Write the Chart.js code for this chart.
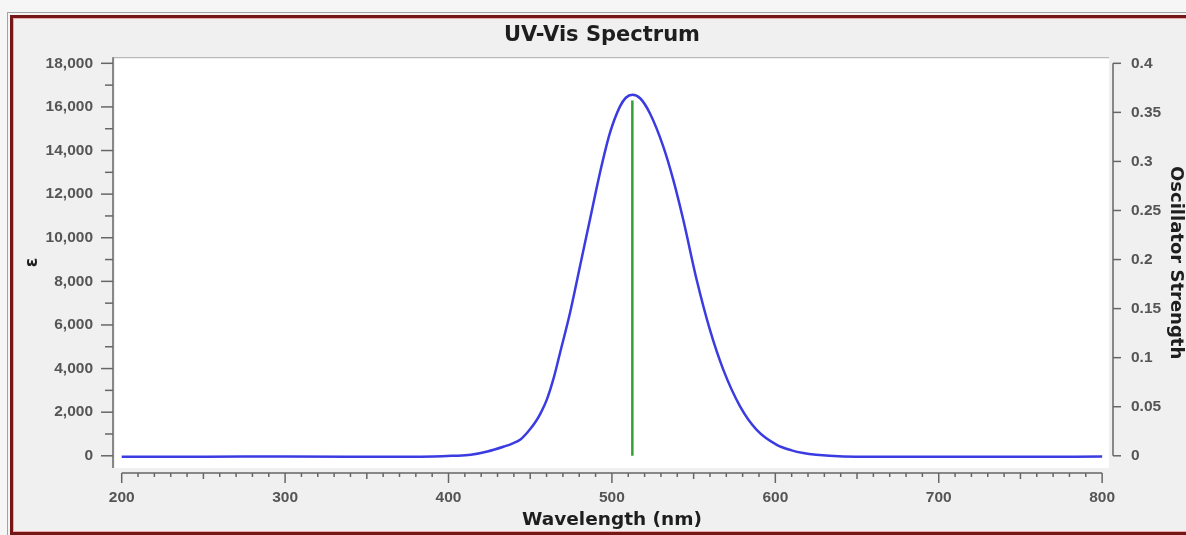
<!DOCTYPE html>
<html>
<head>
<meta charset="utf-8">
<title>UV-Vis Spectrum</title>
<script src="https://cdn.jsdelivr.net/npm/chart.js@4.4.1/dist/chart.umd.min.js"></script>
<style>
  html, body { margin: 0; padding: 0; width: 1186px; height: 535px; overflow: hidden; background: #f6f6f6; }
  #frame { position: absolute; left: 7px; top: 12px; width: 1300px; height: 600px;
           border: 1px solid #a3a3a3; padding: 2px; background: #f4f4f4; }
  #panel { box-sizing: border-box; width: 1296px; height: 520px;
           border: 3px solid #761717; box-shadow: inset 0 0 0 1px #e7a9a9; background: #f0f0f0; }
  #chart { position: absolute; left: 0; top: 0; }
</style>
</head>
<body>
<div id="frame"><div id="panel"></div></div>
<canvas id="chart" width="1186" height="535"></canvas>
<script>
// Simulated absorption band (molar absorptivity vs wavelength)
const wavelengths = [200, 250, 300, 350, 383, 403, 413.6, 423.8, 434, 439, 444.2, 448.5, 453.4, 456.4, 460.1, 464.6, 468.2,
                     474.3, 480.4, 486.5, 492.6, 498.7, 504.8, 508.5, 512.5, 517.4, 523.3, 531.5, 537.6, 543.7,
                     551.9, 560.0, 568.2, 578.5, 588.6, 600.9, 610, 617.1, 625, 641.6, 660, 700, 750, 800];
const epsilon = [-40, -40, -35, -40, -45, 0, 46, 197, 426, 560, 760, 1090, 1571, 1956, 2565, 3633, 4704,
                 6537, 8672, 10811, 12950, 14783, 16001, 16420, 16560, 16386, 15699, 14169, 12643, 10811,
                 8062, 5772, 3940, 2258, 1191, 504, 250, 124, 45, -32, -45, -45, -45, -35];

// Computed excitations (stick spectrum)
const stickWavelengths = [512.5];
const stickStrengths = [0.362];

// Axis tick values
const wavelengthTicks = [200, 300, 400, 500, 600, 700, 800];
const epsilonTicks = [0, 2000, 4000, 6000, 8000, 10000, 12000, 14000, 16000, 18000];
const strengthTicks = [0, 0.05, 0.1, 0.15, 0.2, 0.25, 0.3, 0.35, 0.4];

const TITLE_FONT = "'DejaVu Sans', Verdana, sans-serif";
const TICK_FONT = "'Liberation Sans', Arial, sans-serif";
const tickFont = { family: TICK_FONT, size: 15.5, weight: 'bold' };
const tickColor = '#555555';
const axisColor = '#666666';

const datasets = [{
  label: 'ε',
  data: wavelengths.map((w, i) => ({ x: w, y: epsilon[i] })),
  showLine: true,
  borderColor: '#3b3be2',
  borderWidth: 2.5,
  pointRadius: 0,
  cubicInterpolationMode: 'monotone',
  xAxisID: 'x',
  yAxisID: 'y'
}];
stickWavelengths.forEach((w, i) => {
  datasets.push({
    label: 'f',
    data: [{ x: w, y: 0 }, { x: w, y: stickStrengths[i] }],
    showLine: true,
    borderColor: '#34a034',
    borderWidth: 2.5,
    pointRadius: 0,
    xAxisID: 'x',
    yAxisID: 'y2'
  });
});

// White plot panel plus the hand-styled axis lines and tick marks
const axesPlugin = {
  id: 'spectrumAxes',
  beforeDraw(chart) {
    const { ctx, chartArea: a } = chart;
    ctx.save();
    ctx.fillStyle = '#ffffff';
    ctx.fillRect(a.left, a.top, a.right - a.left, a.bottom - a.top);
    ctx.strokeStyle = '#a8a8a8';
    ctx.lineWidth = 1;
    ctx.beginPath();
    ctx.moveTo(a.left - 2, a.top + 0.5);
    ctx.lineTo(a.right, a.top + 0.5);
    ctx.stroke();
    ctx.restore();
  },
  afterDraw(chart) {
    const { ctx, chartArea: a, scales } = chart;
    const xs = scales.x, ys = scales.y, y2 = scales.y2;
    ctx.save();
    ctx.strokeStyle = axisColor;
    ctx.lineWidth = 1.5;
    const seg = (x1, y1, x2, y2p) => { ctx.beginPath(); ctx.moveTo(x1, y1); ctx.lineTo(x2, y2p); ctx.stroke(); };

    // left (ε) axis
    const lx = a.left - 2;
    seg(lx, a.top, lx, a.bottom);
    epsilonTicks.forEach((v, i) => {
      const py = ys.getPixelForValue(v);
      seg(lx - 12, py, lx, py);
      if (i < epsilonTicks.length - 1) {
        const my = ys.getPixelForValue((v + epsilonTicks[i + 1]) / 2);
        seg(lx - 8, my, lx, my);
      }
    });

    // right (oscillator strength) axis
    const rx = a.right + 4;
    const rTop = y2.getPixelForValue(strengthTicks[strengthTicks.length - 1]);
    const rBot = y2.getPixelForValue(strengthTicks[0]);
    seg(rx, rTop, rx, rBot);
    strengthTicks.forEach(v => {
      const py = y2.getPixelForValue(v);
      seg(rx, py, rx + 8, py);
    });

    // bottom (wavelength) axis
    const by = a.bottom + 5;
    const x0 = wavelengthTicks[0], x1 = wavelengthTicks[wavelengthTicks.length - 1];
    seg(xs.getPixelForValue(x0), by, xs.getPixelForValue(x1), by);
    for (let w = x0; w <= x1; w += 10) {
      const px = xs.getPixelForValue(w);
      const len = (w % 100 === 0) ? 10 : (w % 50 === 0 ? 6 : 4);
      seg(px, by, px, by + len);
    }
    ctx.restore();
  }
};

new Chart(document.getElementById('chart'), {
  type: 'scatter',
  data: { datasets },
  plugins: [axesPlugin],
  options: {
    responsive: false,
    animation: false,
    devicePixelRatio: 1,
    layout: { padding: { left: 18, top: 0, right: 0, bottom: 0 } },
    plugins: {
      legend: { display: false },
      tooltip: { enabled: false },
      title: {
        display: true,
        text: 'UV-Vis Spectrum',
        color: '#1e1e1e',
        font: { family: TITLE_FONT, size: 21, weight: 'bold' },
        padding: { top: 23, bottom: 9 }
      }
    },
    scales: {
      x: {
        type: 'linear',
        position: 'bottom',
        min: 195.9,
        max: 804.2,
        grid: { display: false, drawTicks: false },
        border: { display: false },
        afterBuildTicks: s => { s.ticks = wavelengthTicks.map(v => ({ value: v })); },
        afterFit: s => { s.height = 67; },
        ticks: {
          autoSkip: false, maxRotation: 0, padding: 20,
          color: tickColor, font: tickFont,
          callback: v => String(v)
        },
        title: {
          display: true, text: 'Wavelength (nm)', color: '#1e1e1e',
          font: { family: TITLE_FONT, size: 18.5, weight: 'bold' },
          padding: { top: 0, bottom: 4 }
        }
      },
      y: {
        type: 'linear',
        position: 'left',
        min: -560,
        max: 18280,
        grid: { display: false, drawTicks: false },
        border: { display: false },
        afterBuildTicks: s => { s.ticks = epsilonTicks.map(v => ({ value: v })); },
        afterFit: s => { s.width = 97; },
        ticks: {
          autoSkip: false, padding: 22,
          color: tickColor, font: tickFont,
          callback: v => v.toLocaleString('en-US')
        },
        title: {
          display: true, text: 'ε', color: '#1e1e1e',
          font: { family: TITLE_FONT, size: 17, weight: 'bold' },
          padding: { top: 4, bottom: 0 }
        }
      },
      y2: {
        type: 'linear',
        position: 'right',
        min: -560 * 0.4 / 18000,
        max: 18280 * 0.4 / 18000,
        grid: { display: false, drawTicks: false },
        border: { display: false },
        afterBuildTicks: s => { s.ticks = strengthTicks.map(v => ({ value: v })); },
        afterFit: s => { s.width = 77; },
        ticks: {
          autoSkip: false, padding: 22,
          color: tickColor, font: tickFont,
          callback: v => String(+v.toFixed(2))
        },
        title: {
          display: true, text: 'Oscillator Strength', color: '#1e1e1e',
          font: { family: TITLE_FONT, size: 18, weight: 'bold' },
          padding: { top: 0, bottom: 0 }
        }
      }
    }
  }
});
</script>
</body>
</html>
